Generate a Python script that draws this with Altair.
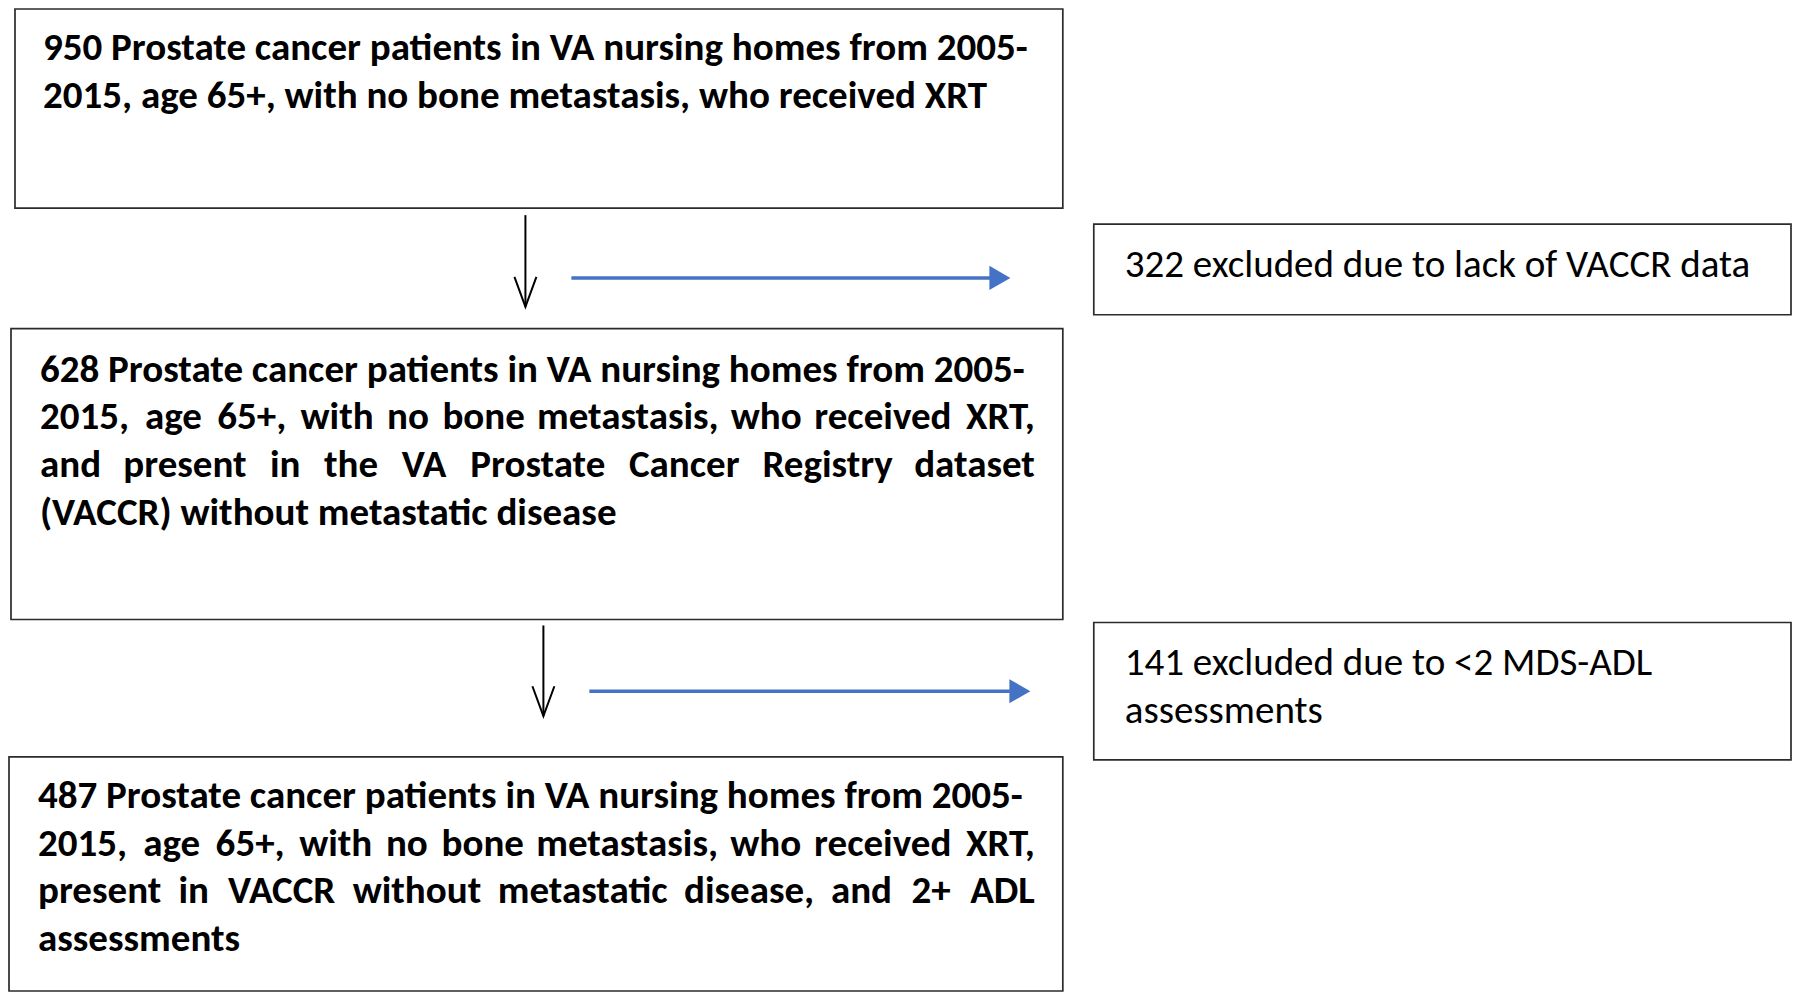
import altair as alt
import pandas as pd

# Box geometry (pixel space of the figure)
box_x1 = [14, 1094, 10, 1094, 8]
box_x2 = [1063, 1792, 1063, 1792, 1063]
box_y1 = [8, 224, 329, 624, 759]
box_y2 = [208, 315, 621, 762, 994]

# Text lines of the main boxes (justify flag: 1 = justified to the right margin)
main_lines = [
    "950 Prostate cancer patients in VA nursing homes from 2005-",
    "2015, age 65+, with no bone metastasis, who received XRT",
    "628 Prostate cancer patients in VA nursing homes from 2005-",
    "2015, age 65+, with no bone metastasis, who received XRT,",
    "and present in the VA Prostate Cancer Registry dataset",
    "(VACCR) without metastatic disease",
    "487 Prostate cancer patients in VA nursing homes from 2005-",
    "2015, age 65+, with no bone metastasis, who received XRT,",
    "present in VACCR without metastatic disease, and 2+ ADL",
    "assessments",
]
main_justify = [0, 0, 0, 1, 1, 0, 0, 1, 1, 0]
main_x = [42, 42, 39, 39, 39, 39, 37, 37, 37, 37]
main_y = [47, 95, 370, 418, 466, 514, 798, 846, 894, 942]
right_margin = 1035

excl_lines = [
    "322 excluded due to lack of VACCR data",
    "141 excluded due to <2 MDS-ADL",
    "assessments",
]
excl_x = [1125, 1125, 1125]
excl_y = [265, 665, 713]

# Black downward arrows
down_x = [525, 543]
down_y1 = [215, 627]
down_y2 = [307, 718]

# Blue exclusion arrows
blue_x1 = [571, 589]
blue_x2 = [991, 1010]
blue_y = [278, 693]
blue_head_x = [1000, 1020]

FS = 39
# rough relative glyph widths (em) for a humanist bold sans, used only to space justified words
_w = {c: 0.58 for c in "0123456789+<"}
_w.update(dict(a=.53, b=.58, c=.46, d=.58, e=.54, f=.35, g=.53, h=.58, i=.27, j=.27, k=.54,
               l=.27, m=.87, n=.58, o=.58, p=.58, q=.58, r=.39, s=.44, t=.37, u=.58, v=.50,
               w=.79, x=.51, y=.51, z=.46))
_w.update({"A": .63, "C": .60, "D": .70, "L": .48, "M": .85, "P": .58, "R": .58, "S": .51,
           "T": .55, "V": .62, "X": .60, ",": .24, ".": .24, "(": .32, ")": .32, "-": .36, " ": .26})


def est(s):
    return sum(_w.get(c, 0.55) for c in s)


k = 985.0 / est(main_lines[0])  # calibrate on the first (full-width) line

rows = []
for t, j, x, y in zip(main_lines, main_justify, main_x, main_y):
    if not j:
        rows.append({"t": t, "x": x, "y": y, "a": "left"})
        continue
    words = t.split(" ")
    ws = [k * est(wd) for wd in words]
    gap = (right_margin - x - sum(ws)) / (len(words) - 1)
    pos = x
    for i, (wd, wv) in enumerate(zip(words, ws)):
        if i == 0:
            rows.append({"t": wd, "x": pos, "y": y, "a": "left"})
        elif i == len(words) - 1:
            rows.append({"t": wd, "x": right_margin, "y": y, "a": "right"})
        else:
            rows.append({"t": wd, "x": pos + wv / 2, "y": y, "a": "center"})
        pos += wv + gap
main_df = pd.DataFrame(rows)

W, H = 1784, 984
xs = alt.Scale(domain=[8, 8 + W], nice=False, zero=False)
ys = alt.Scale(domain=[8, 8 + H], nice=False, zero=False, reverse=True)
X = lambda f: alt.X(f, type="quantitative", scale=xs, axis=None)
Y = lambda f: alt.Y(f, type="quantitative", scale=ys, axis=None)

boxes = pd.DataFrame({"x1": box_x1, "x2": box_x2, "y1": box_y1, "y2": box_y2})
rects = alt.Chart(boxes).mark_rect(fill="white", stroke="#2b2b2b", strokeWidth=1.7).encode(
    x=X("x1"), x2="x2", y=Y("y1"), y2="y2"
)

font = "Carlito, Lato, sans-serif"
layers = [rects]
for a in ["left", "center", "right"]:
    sub = main_df[main_df["a"] == a]
    if len(sub):
        layers.append(
            alt.Chart(sub).mark_text(
                align=a, baseline="middle", font=font, fontSize=FS, fontWeight="bold", color="black"
            ).encode(x=X("x"), y=Y("y"), text="t:N")
        )

excl_df = pd.DataFrame({"t": excl_lines, "x": excl_x, "y": excl_y})
layers.append(
    alt.Chart(excl_df).mark_text(
        align="left", baseline="middle", font=font, fontSize=FS, color="black"
    ).encode(x=X("x"), y=Y("y"), text="t:N")
)

# Black arrows: shaft + open V head
shaft_df = pd.DataFrame({"x": down_x, "y1": down_y1, "y2": down_y2})
layers.append(alt.Chart(shaft_df).mark_rule(color="black", strokeWidth=2).encode(
    x=X("x"), y=Y("y1"), y2="y2"
))
vrows = []
for i, (x, y2) in enumerate(zip(down_x, down_y2)):
    vrows += [
        {"id": i, "o": 0, "x": x - 11, "y": y2 - 30},
        {"id": i, "o": 1, "x": x, "y": y2},
        {"id": i, "o": 2, "x": x + 11, "y": y2 - 30},
    ]
layers.append(alt.Chart(pd.DataFrame(vrows)).mark_line(color="black", strokeWidth=2).encode(
    x=X("x"), y=Y("y"), detail="id:N", order="o:Q"
))

# Blue arrows
blue_df = pd.DataFrame({"x1": blue_x1, "x2": blue_x2, "y": blue_y, "hx": blue_head_x})
layers.append(alt.Chart(blue_df).mark_rule(color="#4472C4", strokeWidth=3.5).encode(
    x=X("x1"), x2="x2", y=Y("y")
))
layers.append(alt.Chart(blue_df).mark_point(
    shape="M-1,-1.15L1,0L-1,1.15Z", size=441, filled=True, color="#4472C4", opacity=1
).encode(x=X("hx"), y=Y("y")))

chart = alt.layer(*layers).properties(
    width=W, height=H, padding=0,
    autosize=alt.AutoSizeParams(type="fit", contains="padding"),
).configure_view(stroke=None)

chart.save("out.html", embed_options={"renderer": "svg", "actions": False})
